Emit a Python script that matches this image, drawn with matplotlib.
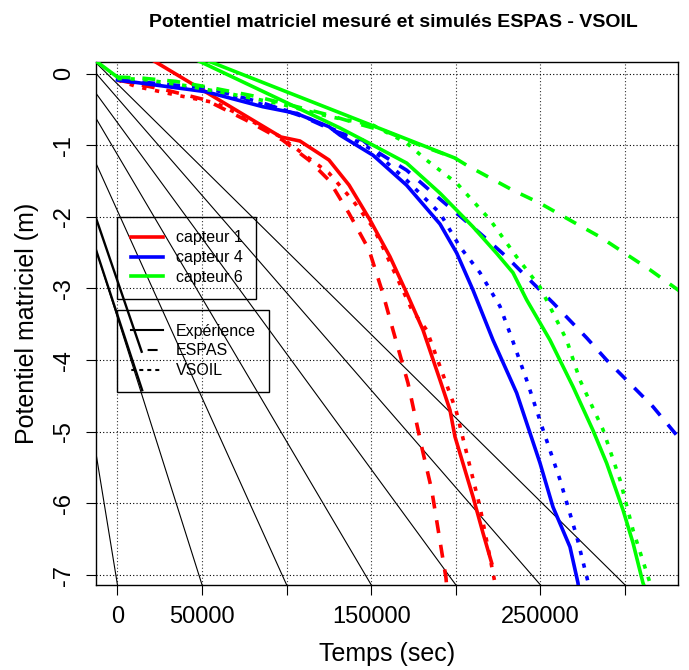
import numpy as np
import matplotlib
matplotlib.use("Agg")
import matplotlib.pyplot as plt
from matplotlib.lines import Line2D

plt.rcParams['font.family'] = ['Liberation Sans', 'DejaVu Sans']

# --- donnees (temps en s, potentiel en m) ---
# capteur 1
t_exp1 = [0, 96630, 107860, 125000, 136830, 149240, 161050, 170920, 180560,
          190600, 196500, 199460, 210100, 216010, 221150]
h_exp1 = [0.48, -0.886, -0.942, -1.207, -1.556, -2.044, -2.557, -3.064, -3.58,
          -4.278, -4.697, -5.069, -5.907, -6.413, -6.832]
t_esp1 = [0, 28660, 52300, 75940, 97630, 113200, 125000, 136800, 148640,
          156730, 162820, 171690, 179780, 185690, 194140, 194730]
h_esp1 = [-0.09, -0.23, -0.37, -0.65, -0.93, -1.21, -1.49, -1.95, -2.46,
          -3.06, -3.58, -4.32, -5.21, -5.81, -7.04, -7.21]
t_vso1 = [0, 10930, 34570, 58210, 75940, 96040, 125000, 139000, 150820,
          156730, 165770, 174040, 182740, 200080, 214240, 223100, 224290]
h_vso1 = [-0.09, -0.18, -0.30, -0.41, -0.62, -0.88, -1.39, -1.77, -2.14,
          -2.42, -2.88, -3.30, -3.58, -4.70, -6.05, -7.11, -7.24]
# capteur 4
t_exp4 = [0, 52300, 85810, 105490, 125000, 131500, 151000, 170920, 190600,
          200470, 210100, 221920, 235920, 243790, 249700, 257380, 267430,
          272160, 272750]
h_exp4 = [-0.09, -0.254, -0.463, -0.555, -0.742, -0.86, -1.14, -1.56, -2.10,
          -2.505, -3.022, -3.72, -4.459, -5.017, -5.436, -6.05, -6.608,
          -7.11, -7.24]
t_esp4 = [0, 52300, 85810, 109450, 129130, 144910, 154550, 170920, 186460,
          200470, 214240, 230020, 241840, 257380, 277300, 289110, 300930,
          316470, 331250, 340000]
h_esp4 = [-0.09, -0.20, -0.41, -0.60, -0.81, -0.93, -1.11, -1.35, -1.67,
          -1.95, -2.23, -2.56, -2.84, -3.20, -3.69, -4.00, -4.28,
          -4.65, -5.07, -5.20]
t_vso4 = [0, 52300, 105490, 131500, 151000, 170920, 190600, 202420, 214240,
          226060, 232970, 241840, 251470, 261520, 271390, 278240, 279200]
h_vso4 = [-0.09, -0.23, -0.55, -0.82, -1.07, -1.49, -1.95, -2.42, -2.78,
          -3.25, -3.69, -4.28, -4.97, -5.67, -6.46, -7.11, -7.24]
# capteur 6 (nan = coupure du trace)
t_exp6 = [-20000, 0, np.nan, 19210, 199460, np.nan, 19210, 131500, 151000,
          170920, 190600, 210100, 224100, 233740, 241840, 255610, 269200,
          281020, 289120, 298750, 304660, 310570, 312750]
h_exp6 = [0.30, -0.05, np.nan, 0.495, -1.18, np.nan, 0.498, -0.76, -1.00,
          -1.25, -1.67, -2.14, -2.51, -2.78, -3.16, -3.72, -4.37,
          -4.98, -5.44, -6.09, -6.55, -7.11, -7.24]
t_esp6 = [0, 12710, 34570, 58210, 81850, 105490, 125000, 144910, 158680,
          178780, 199460, 206380, 233740, 249700, 269200, 285160, 299930,
          314710, 331260, 340000]
h_esp6 = [-0.05, -0.06, -0.11, -0.21, -0.32, -0.46, -0.58, -0.72, -0.81,
          -1.00, -1.18, -1.28, -1.63, -1.81, -2.07, -2.28, -2.51,
          -2.74, -3.02, -3.17]
t_vso6 = [0, 14890, 40480, 65900, 95450, 125000, 151000, 170920, 182740,
          200470, 220150, 235920, 249700, 265470, 273340, 286930, 296980,
          304660, 314710, 315900]
h_vso6 = [-0.07, -0.08, -0.17, -0.28, -0.42, -0.60, -0.72, -0.97, -1.21,
          -1.53, -2.04, -2.56, -2.98, -3.72, -4.28, -4.97, -5.67,
          -6.37, -7.11, -7.24]

# droites noires : depart au bord gauche (h), arrivee en bas (t)
x_gauche = -12707
y_bas = -7.139
h_depart = [-5.30, -2.46, -1.253, -0.625, -0.276, 0.003, 0.15]
t_arrivee = [0, 50000, 100000, 150000, 200000, 250000, 300000]
# deux traits epais
seg_t = [[x_gauche, 14300], [x_gauche, 14600]]
seg_h = [[-2.017, -3.883], [-2.46, -4.42]]

xticks = [0, 50000, 100000, 150000, 200000, 250000, 300000]
xlabels = ['0', '50000', '', '150000', '', '250000', '']
yticks = [0, -1, -2, -3, -4, -5, -6, -7]

fig = plt.figure(figsize=(6.89, 6.70), dpi=100)
ax = fig.add_axes([0.1393, 0.1269, 0.8447, 0.7810])
ax.set_xlim(-12707, 331256)
ax.set_ylim(-7.139, 0.165)

# grille pointillee
for x in xticks:
    ax.axvline(x, color='#333333', lw=0.8, ls=(0, (1, 2)), zorder=1)
for y in yticks:
    ax.axhline(y, color='black', lw=0.8, ls=(0, (1, 2)), zorder=1)

for h0, t1 in zip(h_depart, t_arrivee):
    ax.plot([x_gauche, t1], [h0, y_bas], color='black', lw=0.8, zorder=2)
for st, sh in zip(seg_t, seg_h):
    ax.plot(st, sh, color='black', lw=1.7, zorder=2)

lw = 2.6
tiret = (0, (3.6, 3.3))
point = (0, (1.2, 2.4))
series = [
    (t_exp1, h_exp1, '#FF0000', '-'), (t_esp1, h_esp1, '#FF0000', tiret),
    (t_vso1, h_vso1, '#FF0000', point),
    (t_exp4, h_exp4, '#0000FF', '-'), (t_esp4, h_esp4, '#0000FF', tiret),
    (t_vso4, h_vso4, '#0000FF', point),
    (t_exp6, h_exp6, '#00FF00', '-'), (t_esp6, h_esp6, '#00FF00', tiret),
    (t_vso6, h_vso6, '#00FF00', point),
]
for t, h, c, ls in series:
    ax.plot(t, h, color=c, lw=lw, ls=ls, zorder=3)

ax.set_xticks(xticks)
ax.set_xticklabels(xlabels)
ax.set_yticks(yticks)
ax.set_yticklabels([str(v) if v == 0 else '-%d' % (-v) for v in yticks])
ax.tick_params(direction='out', length=7, width=0.8, labelsize=17, pad=8)
for lab in ax.get_yticklabels():
    lab.set_rotation(90)
    lab.set_va('center')
for sp in ax.spines.values():
    sp.set_linewidth(1.0)

ax.set_xlabel('Temps (sec)', fontsize=18, labelpad=10)
ax.set_ylabel('Potentiel matriciel (m)', fontsize=18, labelpad=10)
fig.text(0.5705, 0.967, 'Potentiel matriciel mesuré et simulés ESPAS - VSOIL',
         ha='center', va='center', fontsize=14, fontweight='bold')

leg_kw = dict(loc='upper left', bbox_transform=ax.transData, borderaxespad=0,
              fontsize=11.5, frameon=True, fancybox=False, facecolor='none',
              edgecolor='black', framealpha=1, borderpad=0.85, handlelength=2.0,
              handletextpad=0.8, labelspacing=0.3)
h1 = [Line2D([], [], color=c, lw=lw) for c in ['#FF0000', '#0000FF', '#00FF00']]
leg1 = ax.legend(h1, ['capteur 1', 'capteur 4', 'capteur 6'],
                 bbox_to_anchor=(0, -2.0), **leg_kw)
leg1.get_frame().set_linewidth(1.0)
ax.add_artist(leg1)
h2 = [Line2D([], [], color='black', lw=1.5),
      Line2D([], [], color='black', lw=1.5, ls=(11.23, (4.8, 14.4))),
      Line2D([], [], color='black', lw=1.5, ls=(3.7, (1.92, 1.92)))]
leg2 = ax.legend(h2, ['Expérience', 'ESPAS', 'VSOIL'],
                 bbox_to_anchor=(0, -3.30), **leg_kw)
leg2.get_frame().set_linewidth(1.0)

fig.savefig('out.png', dpi=100)
